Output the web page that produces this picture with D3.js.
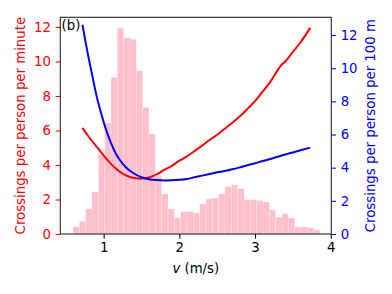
<!DOCTYPE html>
<html>
<head>
<meta charset="utf-8">
<script src="https://cdn.jsdelivr.net/npm/d3@7"></script>
<style>
  body { margin: 0; background: #fff; }
  svg { display: block; }
</style>
</head>
<body>
<svg id="chart"></svg>
<script>
// histogram of walking speeds (bin edges in m/s, counts on left axis)
const binEdges = [0.595, 0.679, 0.762, 0.846, 0.930, 1.014, 1.097, 1.181, 1.265, 1.348,
  1.432, 1.516, 1.599, 1.683, 1.767, 1.851, 1.934, 2.018, 2.102, 2.185,
  2.269, 2.353, 2.436, 2.520, 2.604, 2.688, 2.771, 2.855, 2.939, 3.022,
  3.106, 3.190, 3.273, 3.357, 3.441, 3.525, 3.608, 3.692, 3.776, 3.859];
const binHeights = [0.41, 0.73, 1.46, 2.43, 4.59, 6.43, 9.07, 11.93, 11.38, 11.29,
  9.46, 7.33, 5.81, 3.35, 2.32, 1.45, 0.94, 1.29, 1.31, 1.23,
  1.75, 2.03, 2.08, 2.33, 2.74, 2.85, 2.62, 1.99, 1.99, 1.95,
  1.85, 1.39, 0.98, 1.18, 0.93, 0.41, 0.41, 0.36, 0.23];

// crossings per person per minute (left axis)
const perMinuteV = [0.72, 0.8, 0.9, 1.0, 1.1, 1.2, 1.3, 1.4, 1.5, 1.6, 1.7, 1.8, 1.9, 2.0,
  2.1, 2.2, 2.3, 2.4, 2.5, 2.6, 2.7, 2.8, 2.9, 3.0, 3.1, 3.2, 3.3, 3.35, 3.4, 3.5, 3.6, 3.73];
const perMinute = [6.15, 5.65, 5.1, 4.55, 4.05, 3.65, 3.38, 3.25, 3.22, 3.28, 3.45, 3.72, 3.95, 4.25,
  4.5, 4.8, 5.12, 5.45, 5.75, 6.1, 6.45, 6.82, 7.25, 7.7, 8.25, 8.8, 9.5, 9.8, 10.0, 10.55, 11.1, 11.95];

// crossings per person per 100 m (right axis)
const perDistV = [0.72, 0.76, 0.8, 0.85, 0.9, 0.95, 1.0, 1.05, 1.1, 1.15, 1.2, 1.25, 1.3, 1.4,
  1.5, 1.6, 1.7, 1.8, 1.9, 2.0, 2.1, 2.2, 2.3, 2.4, 2.5, 2.6, 2.7, 2.8, 2.9, 3.0,
  3.1, 3.2, 3.3, 3.4, 3.5, 3.6, 3.73];
const perDist = [12.62, 11.6, 10.65, 9.55, 8.45, 7.55, 6.75, 6.05, 5.45, 4.95, 4.55, 4.25, 4.0, 3.65,
  3.42, 3.3, 3.25, 3.23, 3.24, 3.27, 3.32, 3.42, 3.52, 3.62, 3.72, 3.8, 3.9, 4.02, 4.15, 4.27,
  4.4, 4.52, 4.66, 4.8, 4.92, 5.05, 5.21];

const xTicks = [1, 2, 3, 4];
const yTicks = [0, 2, 4, 6, 8, 10, 12];

const width = 392;
const height = 294;
const plot = { left: 60.3, right: 331.3, top: 17.3, bottom: 234 };
const font = "'DejaVu Sans', sans-serif";
const fs = 13.3;
const tick = 4.67;

const svg = d3.select("#chart").attr("width", width).attr("height", height);

const x = d3.scaleLinear([0.427, 4.008], [plot.left, plot.right]);
const yL = d3.scaleLinear([0, 12.56], [plot.bottom, plot.top]);
const yR = d3.scaleLinear([0, 13.07], [plot.bottom, plot.top]);

const bins = binHeights.map((h, i) => ({ x0: binEdges[i], x1: binEdges[i + 1], h }));

svg.append("g")
  .selectAll("rect")
  .data(bins)
  .join("rect")
  .attr("x", (d) => x(d.x0))
  .attr("width", (d) => x(d.x1) - x(d.x0))
  .attr("y", (d) => yL(d.h))
  .attr("height", (d) => yL(0) - yL(d.h))
  .style("fill", "pink")
  .style("stroke", "#fff")
  .style("stroke-opacity", 0.35)
  .style("stroke-width", 0.6);

const redLine = d3.line()
  .x((d, i) => x(perMinuteV[i]))
  .y((d) => yL(d))
  .curve(d3.curveMonotoneX);

const blueLine = d3.line()
  .x((d, i) => x(perDistV[i]))
  .y((d) => yR(d))
  .curve(d3.curveMonotoneX);

svg.append("path")
  .attr("d", redLine(perMinute))
  .style("fill", "none")
  .style("stroke", "red")
  .style("stroke-width", 2);

svg.append("path")
  .attr("d", blueLine(perDist))
  .style("fill", "none")
  .style("stroke", "blue")
  .style("stroke-width", 2);

// frame
svg.append("rect")
  .attr("x", plot.left)
  .attr("y", plot.top)
  .attr("width", plot.right - plot.left)
  .attr("height", plot.bottom - plot.top)
  .style("fill", "none")
  .style("stroke", "#222")
  .style("stroke-width", 1.07);

const styleAxis = (g, color) => {
  g.select(".domain").remove();
  g.selectAll("line").style("stroke", color).style("stroke-width", 1.07);
  g.selectAll("text")
    .style("fill", color)
    .style("font-family", font)
    .style("font-size", fs + "px");
};

svg.append("g")
  .attr("transform", `translate(0,${plot.bottom})`)
  .call(d3.axisBottom(x).tickValues(xTicks).tickFormat(d3.format("d")).tickSize(tick).tickPadding(4.3))
  .call((g) => styleAxis(g, "#000"));

svg.append("g")
  .attr("transform", `translate(${plot.left},0)`)
  .call(d3.axisLeft(yL).tickValues(yTicks).tickFormat(d3.format("d")).tickSize(tick).tickPadding(4.7))
  .call((g) => styleAxis(g, "red"));

svg.append("g")
  .attr("transform", `translate(${plot.right},0)`)
  .call(d3.axisRight(yR).tickValues(yTicks).tickFormat(d3.format("d")).tickSize(tick).tickPadding(4.7))
  .call((g) => styleAxis(g, "blue"));

const midY = (plot.top + plot.bottom) / 2;

svg.append("text")
  .attr("transform", `translate(20.5,${midY}) rotate(-90)`)
  .attr("text-anchor", "middle")
  .attr("dy", "0.35em")
  .style("font-family", font)
  .style("font-size", fs + "px")
  .style("fill", "red")
  .text("Crossings per person per minute");

svg.append("text")
  .attr("transform", `translate(370,${midY}) rotate(-90)`)
  .attr("text-anchor", "middle")
  .attr("dy", "0.35em")
  .style("font-family", font)
  .style("font-size", fs + "px")
  .style("fill", "blue")
  .text("Crossings per person per 100 m");

const xLabel = svg.append("text")
  .attr("x", (plot.left + plot.right) / 2)
  .attr("y", 273)
  .attr("text-anchor", "middle")
  .style("font-family", font)
  .style("font-size", fs + "px")
  .style("fill", "#000");
xLabel.append("tspan").style("font-style", "italic").text("v");
xLabel.append("tspan").text(" (m/s)");

svg.append("text")
  .attr("x", 61.5)
  .attr("y", 30)
  .style("font-family", font)
  .style("font-size", fs + "px")
  .style("fill", "#000")
  .text("(b)");
</script>
</body>
</html>
